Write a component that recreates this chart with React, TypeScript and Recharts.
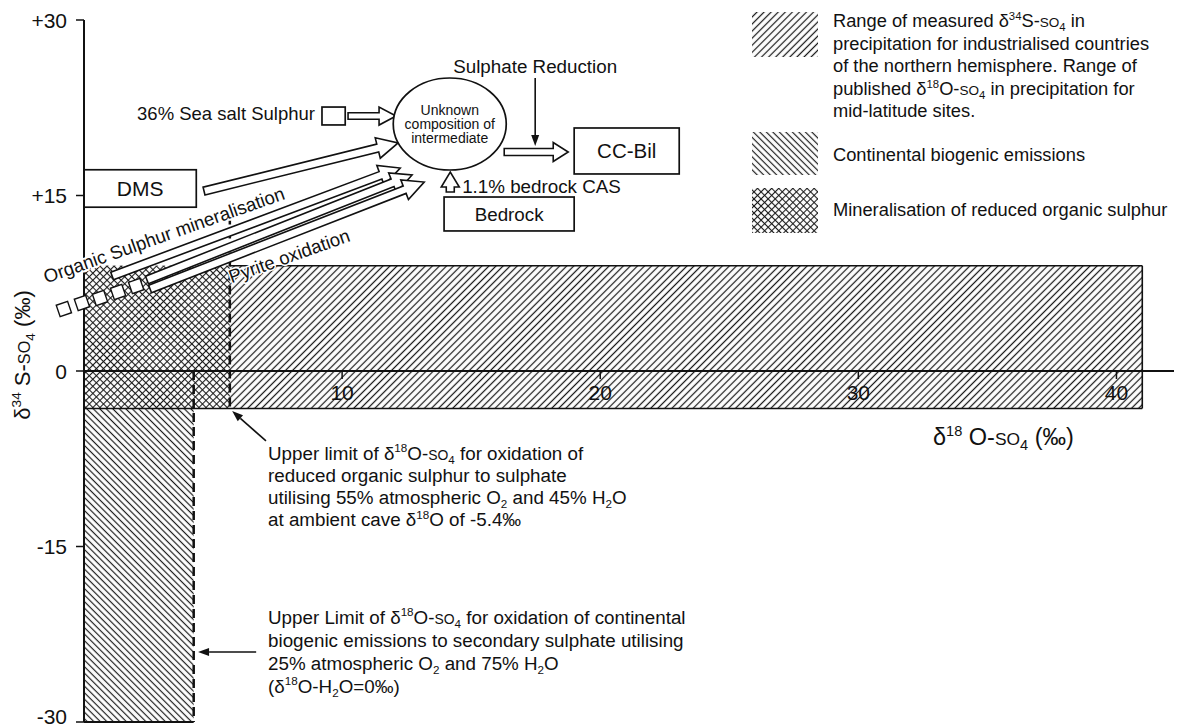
import React from 'react';
import { ComposedChart, XAxis, YAxis, ReferenceArea, ReferenceLine, ReferenceDot } from 'recharts';

const FONT = '"Liberation Sans", Arial, Helvetica, sans-serif';
const INK = '#111';
const FS = 18.3;

// delta18O-SO4 (x) and delta34S-SO4 (y) ranges, permil
const rangeNames = ['precipitation', 'biogenic', 'organic'];
const rangeOMin = [0, 0, 0];
const rangeOMax = [41, 4.25, 5.65];
const rangeSMin = [-3.2, -30, -3.2];
const rangeSMax = [9, -3.2, 9];

// upper limits of delta18O-SO4 (dashed lines)
const limitO = [5.65, 4.25];
const limitSTop = [13.3, 0];
const limitSBottom = [-3.2, -30];

const xTicks = [10, 20, 30, 40];
const yTicks = [-30, -15, 0, 15, 30];

const patternOf: Record<string, string> = { precipitation: 'hFwd', biogenic: 'hBack', organic: 'hCross' };

// ^{..} superscript, _{..} subscript, ~{..} small caps
const rich = (s: string, fs: number) => {
  const parts = s.split(/(\^\{[^}]*\}|_\{[^}]*\}|~\{[^}]*\})/g).filter((p) => p !== '');
  let shift = 0;
  return parts.map((p, i) => {
    if (p.startsWith('^{')) {
      const d = -fs * 0.38;
      const el = <tspan key={i} fontSize={fs * 0.62} dy={d - shift}>{p.slice(2, -1)}</tspan>;
      shift = d;
      return el;
    }
    if (p.startsWith('_{')) {
      const d = fs * 0.22;
      const el = <tspan key={i} fontSize={fs * 0.62} dy={d - shift}>{p.slice(2, -1)}</tspan>;
      shift = d;
      return el;
    }
    if (p.startsWith('~{')) {
      const el = <tspan key={i} fontSize={fs * 0.74} dy={-shift}>{p.slice(2, -1)}</tspan>;
      shift = 0;
      return el;
    }
    const el = <tspan key={i} dy={-shift}>{p}</tspan>;
    shift = 0;
    return el;
  });
};

const textLines = (x: number, y: number, lines: string[], fs: number, anchor = 'start', gap = fs * 1.2, halo = 0) =>
  lines.map((l, i) => (
    <text
      key={i}
      x={x}
      y={y + i * gap + fs * 0.35}
      fontSize={fs}
      fontFamily={FONT}
      fill={INK}
      textAnchor={anchor}
      stroke={halo ? '#fff' : undefined}
      strokeWidth={halo || undefined}
      strokeLinejoin="round"
      paintOrder="stroke"
    >
      {rich(l, fs)}
    </text>
  ));

const dotText = (lines: string[], fs: number, anchor = 'start', gap = fs * 1.2, rotate = 0, halo = 0) => (p: any) => (
  <g transform={rotate ? `rotate(${rotate} ${p.cx} ${p.cy})` : undefined}>{textLines(p.cx, p.cy, lines, fs, anchor, gap, halo)}</g>
);

const hollowArrow = (w: number, hw: number, hl: number) => (p: any) => {
  const { x1, y1, x2, y2 } = p;
  const L = Math.hypot(x2 - x1, y2 - y1);
  const ux = (x2 - x1) / L;
  const uy = (y2 - y1) / L;
  const nx = -uy;
  const ny = ux;
  const bx = x2 - ux * hl;
  const by = y2 - uy * hl;
  const pts = [
    [x1 + (nx * w) / 2, y1 + (ny * w) / 2],
    [bx + (nx * w) / 2, by + (ny * w) / 2],
    [bx + (nx * hw) / 2, by + (ny * hw) / 2],
    [x2, y2],
    [bx - (nx * hw) / 2, by - (ny * hw) / 2],
    [bx - (nx * w) / 2, by - (ny * w) / 2],
    [x1 - (nx * w) / 2, y1 - (ny * w) / 2],
  ];
  return <polygon points={pts.map((q) => q.join(',')).join(' ')} fill="#fff" stroke={INK} strokeWidth={1.6} />;
};

const thinArrow = (p: any) => {
  const { x1, y1, x2, y2 } = p;
  const L = Math.hypot(x2 - x1, y2 - y1);
  const ux = (x2 - x1) / L;
  const uy = (y2 - y1) / L;
  const hl = 11;
  const hw = 8;
  const bx = x2 - ux * hl;
  const by = y2 - uy * hl;
  return (
    <g>
      <line x1={x1} y1={y1} x2={bx} y2={by} stroke={INK} strokeWidth={1.6} />
      <polygon
        points={`${x2},${y2} ${bx - (uy * hw) / 2},${by + (ux * hw) / 2} ${bx + (uy * hw) / 2},${by - (ux * hw) / 2}`}
        fill={INK}
      />
    </g>
  );
};

const plainLine = (width: number, dash?: string) => (p: any) => (
  <line x1={p.x1} y1={p.y1} x2={p.x2} y2={p.y2} stroke={INK} strokeWidth={width} strokeDasharray={dash} />
);

const labelBox = (label: string, fs: number) => (p: any) => (
  <g>
    <rect x={p.x} y={p.y} width={p.width} height={p.height} fill="#fff" stroke={INK} strokeWidth={1.7} />
    {textLines(p.x + p.width / 2, p.y + p.height / 2, [label], fs, 'middle')}
  </g>
);

const hatchRect = (pattern: string) => (p: any) => (
  <g>
    <rect x={p.x} y={p.y} width={p.width} height={p.height} fill="#fff" />
    <rect x={p.x} y={p.y} width={p.width} height={p.height} fill={`url(#${pattern})`} />
  </g>
);

const xTick = (label: string) => (p: any) => (
  <g>
    <line x1={p.cx} y1={p.cy} x2={p.cx} y2={p.cy + 8} stroke={INK} strokeWidth={1.5} />
    {label ? textLines(p.cx, p.cy + 22, [label], 21, 'middle') : null}
  </g>
);

const yTick = (p: any) => {
  const v = p.payload.value;
  return (
    <text x={p.x} y={p.y + (v === -30 ? -6 : 0)} dy="0.36em" textAnchor="end" fontSize={21} fontFamily={FONT} fill={INK}>
      {v > 0 ? `+${v}` : `${v}`}
    </text>
  );
};

const smallSquare = (p: any) => (
  <rect x={p.cx - 6} y={p.cy - 6} width={12} height={12} fill="#fff" stroke={INK} strokeWidth={1.4} transform={`rotate(-19 ${p.cx} ${p.cy})`} />
);

const ellipseShape = (p: any) => (
  <g>
    <ellipse cx={p.cx} cy={p.cy} rx={56.5} ry={46} fill="#fff" stroke={INK} strokeWidth={1.7} />
    {textLines(p.cx, p.cy - 14, ['Unknown', 'composition of', 'intermediate'], 14, 'middle', 14)}
  </g>
);

const pyriteSquares = [
  [-0.78, 5.3],
  [-0.08, 5.81],
  [0.62, 6.24],
  [1.32, 6.75],
  [2.02, 7.26],
];

const longArrows = [
  [4.65, 15.38, 12.17, 19.49],
  [1.09, 8.12, 12.25, 17.35],
  [2.44, 7.78, 12.71, 16.75],
  [2.56, 7.01, 13.18, 16.15],
];

const legendItems = [
  {
    pattern: 'hFwd',
    y: 4,
    h: 45,
    ty: 13,
    lines: [
      'Range of measured δ^{34}S-~{SO}_{4} in',
      'precipitation for industrialised countries',
      'of the northern hemisphere. Range of',
      'published δ^{18}O-~{SO}_{4} in precipitation for',
      'mid-latitude sites.',
    ],
  },
  { pattern: 'hBack', y: 124, h: 43, ty: 147, lines: ['Continental biogenic emissions'] },
  { pattern: 'hCross', y: 180, h: 45, ty: 202, lines: ['Mineralisation of reduced organic sulphur'] },
];

export default function App() {
  return (
    <div style={{ width: 1174, height: 719 }}>
      <ComposedChart width={1174} height={719} margin={{ top: 12, right: 1, bottom: 5, left: 16 }}>
        <defs>
          <pattern id="hFwd" patternUnits="userSpaceOnUse" width="5" height="5" patternTransform="rotate(45)">
            <line x1="2.5" y1="-1" x2="2.5" y2="6" stroke="#1a1a1a" strokeWidth="1.25" />
          </pattern>
          <pattern id="hBack" patternUnits="userSpaceOnUse" width="4.6" height="4.6" patternTransform="rotate(-45)">
            <line x1="2.3" y1="-1" x2="2.3" y2="6" stroke="#1a1a1a" strokeWidth="1.2" />
          </pattern>
          <pattern id="hCross" patternUnits="userSpaceOnUse" width="5" height="5" patternTransform="rotate(45)">
            <line x1="2.5" y1="-1" x2="2.5" y2="6" stroke="#1a1a1a" strokeWidth="1.1" />
            <line x1="-1" y1="2.5" x2="6" y2="2.5" stroke="#1a1a1a" strokeWidth="1.1" />
          </pattern>
        </defs>

        <XAxis type="number" dataKey="o" domain={[0, 42.5]} hide allowDataOverflow />
        <YAxis
          type="number"
          dataKey="s"
          domain={[-30, 30]}
          ticks={yTicks}
          interval={0}
          width={60}
          tickSize={8}
          tickMargin={9}
          allowDataOverflow
          tick={yTick}
          tickLine={{ stroke: INK, strokeWidth: 1.5 }}
          axisLine={{ stroke: INK, strokeWidth: 2 }}
        />

        {rangeNames.map((name, i) => (
          <ReferenceArea
            key={name}
            x1={rangeOMin[i]}
            x2={rangeOMax[i]}
            y1={rangeSMin[i]}
            y2={rangeSMax[i]}
            ifOverflow="visible"
            shape={hatchRect(patternOf[name])}
          />
        ))}

        {/* borders of the ranges */}
        <ReferenceLine segment={[{ x: rangeOMax[2], y: rangeSMax[0] }, { x: rangeOMax[0], y: rangeSMax[0] }]} ifOverflow="visible" shape={plainLine(1.6)} />
        <ReferenceLine segment={[{ x: rangeOMax[0], y: rangeSMax[0] }, { x: rangeOMax[0], y: rangeSMin[0] }]} ifOverflow="visible" shape={plainLine(1.6)} />
        <ReferenceLine segment={[{ x: rangeOMin[0], y: rangeSMin[0] }, { x: rangeOMax[0], y: rangeSMin[0] }]} ifOverflow="visible" shape={plainLine(1.6)} />
        <ReferenceLine segment={[{ x: rangeOMin[1], y: rangeSMin[1] }, { x: rangeOMax[1], y: rangeSMin[1] }]} ifOverflow="visible" shape={plainLine(2)} />

        {limitO.map((o, i) => (
          <ReferenceLine
            key={`lim${i}`}
            segment={[{ x: o, y: limitSTop[i] }, { x: o, y: limitSBottom[i] }]}
            ifOverflow="visible"
            shape={plainLine(2.5, '9 5')}
          />
        ))}

        {/* x axis along delta34S = 0 */}
        <ReferenceLine segment={[{ x: 0, y: 0 }, { x: 42.5, y: 0 }]} ifOverflow="visible" shape={plainLine(1.8)} />
        {xTicks.map((t) => (
          <ReferenceDot key={`xt${t}`} x={t} y={0} ifOverflow="visible" shape={xTick(String(t))} />
        ))}
        <ReferenceDot x={42.42} y={0} ifOverflow="visible" shape={xTick('')} />
        <ReferenceDot x={35.62} y={-5.64} ifOverflow="visible" shape={dotText(['δ^{18} O-~{SO}_{4} (‰)'], 23.5, 'middle')} />
        <ReferenceDot x={-2.4} y={1.37} ifOverflow="visible" shape={dotText(['δ^{34} S-~{SO}_{4} (‰)'], 22, 'middle', 24, -90)} />

        {/* source boxes and flux arrows */}
        <ReferenceArea x1={0} x2={4.35} y1={14.0} y2={17.2} ifOverflow="visible" shape={labelBox('DMS', 21)} />
        <ReferenceArea x1={18.99} x2={23.06} y1={16.84} y2={20.77} ifOverflow="visible" shape={labelBox('CC-Bil', 20.5)} />
        <ReferenceArea x1={13.95} x2={18.99} y1={11.97} y2={14.87} ifOverflow="visible" shape={labelBox('Bedrock', 18.8)} />
        <ReferenceArea x1={9.22} x2={10.12} y1={21.03} y2={22.56} ifOverflow="visible" shape={labelBox('', FS)} />

        {longArrows.map((a, i) => (
          <ReferenceLine
            key={`la${i}`}
            segment={[{ x: a[0], y: a[1] }, { x: a[2], y: a[3] }]}
            ifOverflow="visible"
            shape={hollowArrow(8, 21, 21)}
          />
        ))}
        <ReferenceLine segment={[{ x: 10.23, y: 21.79 }, { x: 12.09, y: 21.79 }]} ifOverflow="visible" shape={hollowArrow(6.5, 18, 17)} />
        <ReferenceLine segment={[{ x: 16.28, y: 18.72 }, { x: 18.76, y: 18.72 }]} ifOverflow="visible" shape={hollowArrow(7, 19, 15)} />
        <ReferenceLine segment={[{ x: 14.19, y: 15.3 }, { x: 14.19, y: 17.01 }]} ifOverflow="visible" shape={hollowArrow(8, 18, 15)} />
        <ReferenceLine segment={[{ x: 17.48, y: 25.04 }, { x: 17.48, y: 19.23 }]} ifOverflow="visible" shape={thinArrow} />

        {pyriteSquares.map((q, i) => (
          <ReferenceDot key={`sq${i}`} x={q[0]} y={q[1]} ifOverflow="visible" shape={smallSquare} />
        ))}

        <ReferenceDot x={14.17} y={21.11} ifOverflow="visible" shape={ellipseShape} />
        <ReferenceDot x={8.95} y={21.97} ifOverflow="visible" shape={dotText(['36% Sea salt Sulphur'], 18.5, 'end')} />
        <ReferenceDot x={17.48} y={26.07} ifOverflow="visible" shape={dotText(['Sulphate Reduction'], 18.8, 'middle')} />
        <ReferenceDot x={14.65} y={15.81} ifOverflow="visible" shape={dotText(['1.1% bedrock CAS'], 18.8)} />
        <ReferenceDot x={3.1} y={11.62} ifOverflow="visible" shape={dotText(['Organic Sulphur mineralisation'], 18.6, 'middle', 18, -19.5, 4)} />
        <ReferenceDot x={7.95} y={9.83} ifOverflow="visible" shape={dotText(['Pyrite oxidation'], 18.6, 'middle', 18, -19.5, 3)} />

        {/* upper limit annotations */}
        <ReferenceLine segment={[{ x: 7.05, y: -5.98 }, { x: 5.74, y: -3.42 }]} ifOverflow="visible" shape={thinArrow} />
        <ReferenceDot
          x={7.13}
          y={-7.01}
          ifOverflow="visible"
          shape={dotText(
            [
              'Upper limit of δ^{18}O-~{SO}_{4} for oxidation of',
              'reduced organic sulphur to sulphate',
              'utilising 55% atmospheric O_{2} and 45% H_{2}O',
              'at ambient cave δ^{18}O of -5.4‰',
            ],
            18.8,
            'start',
            22.2
          )}
        />
        <ReferenceLine segment={[{ x: 6.67, y: -24.02 }, { x: 4.42, y: -24.02 }]} ifOverflow="visible" shape={thinArrow} />
        <ReferenceDot
          x={7.13}
          y={-21.03}
          ifOverflow="visible"
          shape={dotText(
            [
              'Upper Limit of δ^{18}O-~{SO}_{4} for oxidation of continental',
              'biogenic emissions to secondary sulphate utilising',
              '25% atmospheric O_{2} and 75% H_{2}O',
              '(δ^{18}O-H_{2}O=0‰)',
            ],
            18.8,
            'start',
            23
          )}
        />

        {/* legend */}
        <g>
          {legendItems.map((it, i) => (
            <g key={i}>
              <rect x={744} y={it.y} width={66} height={it.h} fill={`url(#${it.pattern})`} />
              {textLines(825, it.ty, it.lines, FS, 'start', 22.5)}
            </g>
          ))}
        </g>
      </ComposedChart>
    </div>
  );
}
